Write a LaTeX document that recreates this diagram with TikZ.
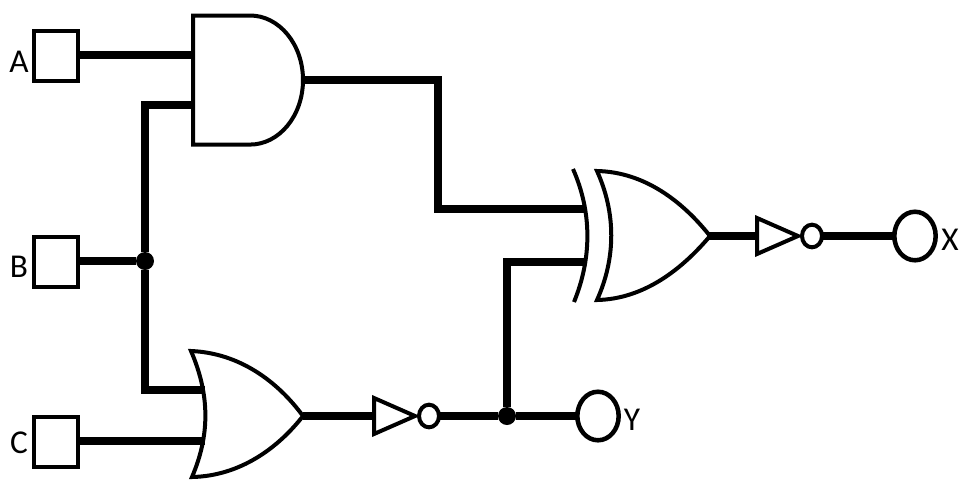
\documentclass[tikz,border=0pt]{standalone}
\usepackage{fontspec}
\setmainfont{Carlito}
\usetikzlibrary{shapes.geometric}
\newcommand{\drawwire}{\draw[line width=6pt]}
\newcommand{\drawthin}{\draw[line width=3pt]}
\newcommand{\drawinverter}[3]{
    \drawthin[fill=white] (#2,#3-18)--++(41,18)--++(-41,18)--cycle;
    \coordinate (#1in) at (#2,#3);
    \node[bubble] (#1) at (#2+55,#3) {};
}
\tikzset{
    inbox/.style={draw,fill=white,line width=2.9pt,minimum width=32.6pt,minimum height=37.9pt,inner sep=0pt,outer sep=0pt},
    outring/.style={draw,fill=white,ellipse,line width=3.4pt,minimum width=31pt,minimum height=36.4pt,inner sep=0pt,outer sep=0pt},
    bubble/.style={draw,fill=white,ellipse,line width=3pt,minimum width=15pt,minimum height=17pt,inner sep=0pt,outer sep=0pt},
    junction/.style={circle,fill=black,minimum size=13.5pt,inner sep=0pt},
    pinlabel/.style={inner sep=0pt,font=\fontsize{25}{25}\selectfont}
}
\begin{document}
\begin{tikzpicture}[x=.75pt,y=-.75pt]
\useasboundingbox (0,0) rectangle (960,480);
\node[inbox] (inA) at (56,56) {};
\node[inbox] (inB) at (56,262) {};
\node[inbox] (inC) at (56,442) {};
\node[pinlabel] (labA) at (19,62) {A};
\node[pinlabel] (labB) at (19,267) {B};
\node[pinlabel] (labC) at (19,443) {C};
\node[junction] (dotB) at (145,261) {};
\node[junction] (dotY) at (507,416) {};
\node[outring] (outY) at (598,416) {};
\node[outring] (outX) at (915,236) {};
\node[pinlabel] (labY) at (632,420) {Y};
\node[pinlabel] (labX) at (950,240) {X};
\coordinate (andA) at (193,55);
\coordinate (andB) at (193,105);
\coordinate (andOut) at (303,80);
\coordinate (orB) at (205,390);
\coordinate (orC) at (205,441);
\coordinate (orOut) at (303,416);
\coordinate (xorA) at (586,209);
\coordinate (xorB) at (586,262);
\coordinate (xorOut) at (708,236);
\drawwire (inA.east|-andA)--(andA);
\drawwire (inB.east|-dotB)--(dotB);
\drawwire (inC.east|-orC)--(orC);
\drawwire (andB)-|(dotB);
\drawwire (orB)-|(dotB);
\drawwire (andOut)-|(438,209)--(xorA);
\drawwire (xorB)-|(dotY);
\drawthin (193,15.5)--(250,15.5) arc[start angle=90,end angle=-90,x radius=39.75pt,y radius=48.4pt]--(193,144.5)--cycle;
\drawthin (191,351) .. controls (240,353) and (278,382) .. (303,416) .. controls (278,448) and (240,476) .. (192,477) .. controls (210,435) and (210,395) .. (191,351)--cycle;
\drawthin (573,169) .. controls (592,212) and (592,258) .. (574,302);
\drawthin (597,171) .. controls (645,172) and (683,202) .. (710,236) .. controls (683,268) and (645,299) .. (597,300) .. controls (616,258) and (616,213) .. (597,171)--cycle;
\drawinverter{invY}{374}{416}
\drawinverter{invX}{757}{236}
\drawwire (orOut)--(invYin);
\drawwire (xorOut)--(invXin);
\drawwire (invY.east)--(dotY);
\drawwire (dotY)--(outY.west);
\drawwire (invX.east)--(outX.west);
\end{tikzpicture}
\end{document}
